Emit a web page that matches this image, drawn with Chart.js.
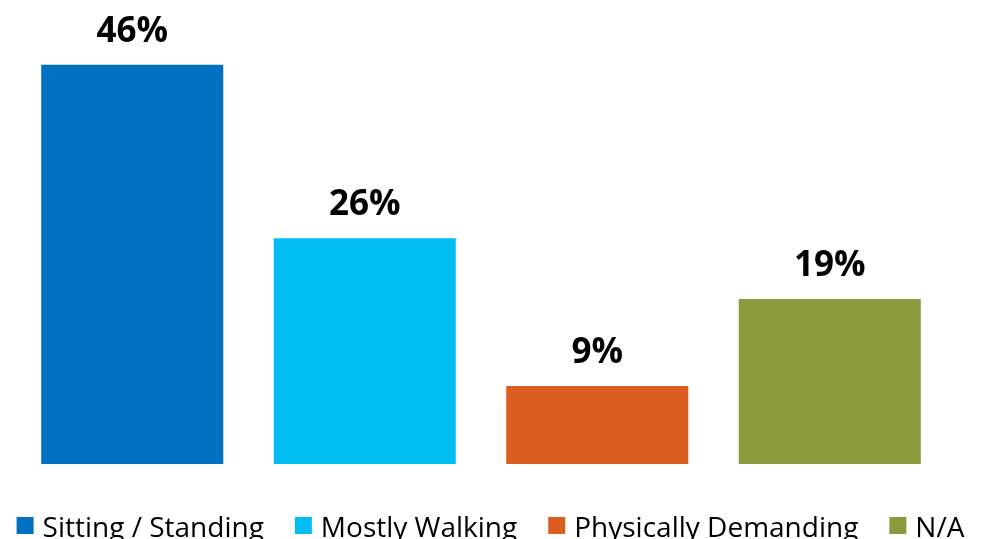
<!DOCTYPE html>
<html>
<head>
<meta charset="utf-8">
<script src="https://cdn.jsdelivr.net/npm/chart.js@4.4.0/dist/chart.umd.min.js"></script>
<style>
  html, body { margin: 0; padding: 0; background: #ffffff; overflow: hidden; }
  #wrap { position: relative; width: 981px; height: 539px; }
</style>
</head>
<body>
<div id="wrap"><canvas id="c" width="981" height="539"></canvas></div>
<script>
const categories = ['Sitting / Standing', 'Mostly Walking', 'Physically Demanding', 'N/A'];
const values = [46, 26, 9, 19];
const colors = ['#0070C0', '#00BEF2', '#DB5E20', '#8A9B3E'];
const yTicks = { min: 0, max: 50 };

const datasets = categories.map((name, i) => ({
  label: name,
  data: [values[i]],
  backgroundColor: colors[i],
  borderWidth: 0,
  barPercentage: 0.783,
  categoryPercentage: 1.0
}));

const valueLabels = {
  id: 'valueLabels',
  afterDatasetsDraw(chart) {
    const ctx = chart.ctx;
    ctx.save();
    ctx.font = 'bold 35px "Open Sans"';
    ctx.fillStyle = '#000000';
    ctx.textAlign = 'center';
    ctx.textBaseline = 'alphabetic';
    chart.data.datasets.forEach((ds, i) => {
      const el = chart.getDatasetMeta(i).data[0];
      ctx.fillText(ds.data[0] + '%', el.x, el.y - 23);
    });
    ctx.restore();
  }
};

const bottomLegend = {
  id: 'bottomLegend',
  afterDraw(chart) {
    const ctx = chart.ctx;
    ctx.save();
    ctx.font = '28px "Open Sans"';
    ctx.textBaseline = 'alphabetic';
    ctx.textAlign = 'left';
    const box = 17, gapText = 9, gapItem = 31;
    const items = chart.data.datasets.map(ds => ({
      text: ds.label, color: ds.backgroundColor, w: ctx.measureText(ds.label).width
    }));
    const total = items.reduce((s, it) => s + box + gapText + it.w, 0) + gapItem * (items.length - 1);
    let x = (chart.width - total) / 2;
    const baseline = 537;
    items.forEach(it => {
      ctx.fillStyle = it.color;
      ctx.fillRect(x, 517, box, box);
      ctx.fillStyle = '#000000';
      ctx.fillText(it.text, x + box + gapText, baseline);
      x += box + gapText + it.w + gapItem;
    });
    ctx.restore();
  }
};

new Chart(document.getElementById('c'), {
  type: 'bar',
  data: { labels: [''], datasets },
  options: {
    responsive: false,
    animation: false,
    layout: { padding: { left: 16, right: 35, top: 30, bottom: 75 } },
    plugins: { legend: { display: false }, tooltip: { enabled: false } },
    scales: {
      x: { display: false },
      y: { display: false, min: yTicks.min, max: yTicks.max }
    }
  },
  plugins: [valueLabels, bottomLegend]
});
</script>
</body>
</html>
